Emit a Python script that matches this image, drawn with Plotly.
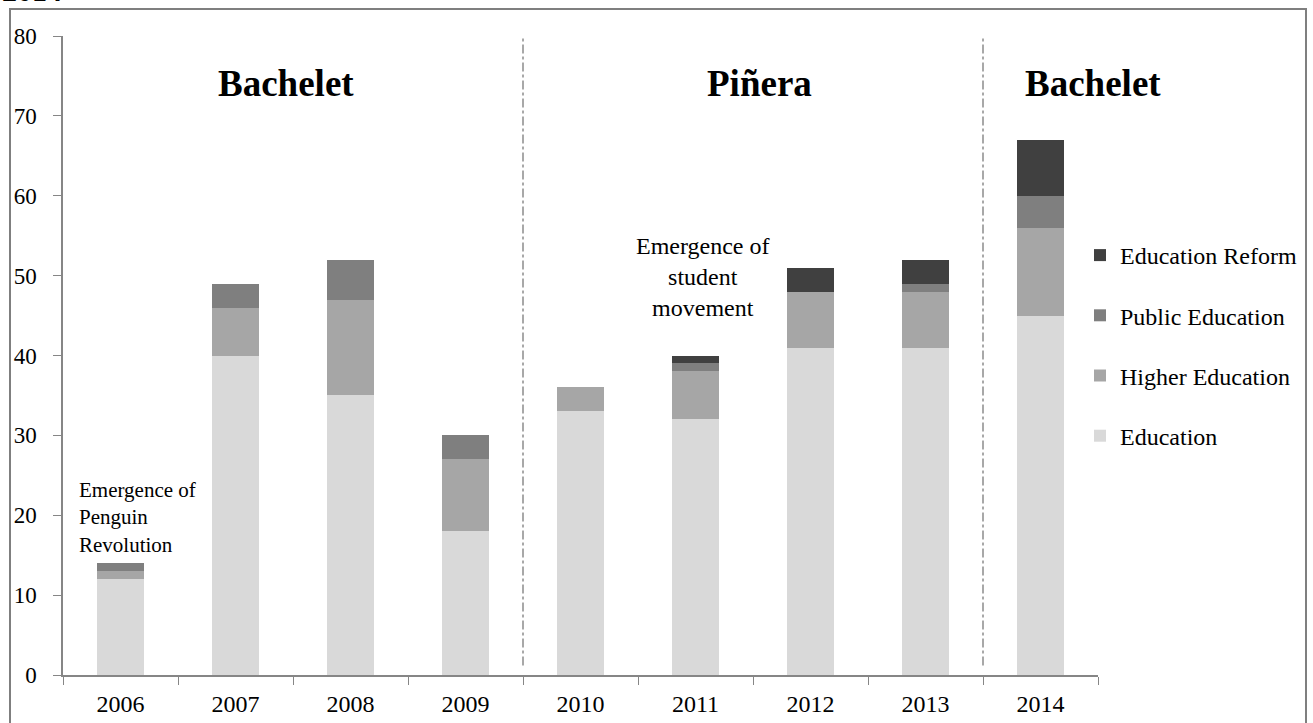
import plotly.graph_objects as go

# Yearly counts by topic
years = ["2006", "2007", "2008", "2009", "2010", "2011", "2012", "2013", "2014"]
education = [12, 40, 35, 18, 33, 32, 41, 41, 45]
higher_education = [1, 6, 12, 9, 3, 6, 7, 7, 11]
public_education = [1, 3, 5, 3, 0, 1, 0, 1, 4]
education_reform = [0, 0, 0, 0, 0, 1, 3, 3, 7]

series = [
    ("Education", education, "#d9d9d9", 4),
    ("Higher Education", higher_education, "#a6a6a6", 3),
    ("Public Education", public_education, "#7f7f7f", 2),
    ("Education Reform", education_reform, "#404040", 1),
]

W, H = 1313, 723
SERIF = "Liberation Serif, Times New Roman, serif"
AXIS_GREY = "#868686"


def px_x(p):
    return p / W


def px_y(p):
    return (H - p) / H


fig = go.Figure()
for name, vals, color, rank in series:
    fig.add_trace(go.Bar(
        x=years, y=vals, name=name,
        marker=dict(color=color, line=dict(width=0)),
        width=0.41,
        legendgroup=name,
        legendrank=rank,
    ))

shapes = [
    # outer frame
    dict(type="rect", xref="paper", yref="paper",
         x0=px_x(10), x1=px_x(1306), y0=-0.2, y1=px_y(9),
         line=dict(color="#7f7f7f", width=2), fillcolor="rgba(0,0,0,0)"),
]
# term separators between presidencies
for xpos in (3.5, 7.5):
    shapes.append(dict(type="line", xref="x", yref="y",
                       x0=xpos, x1=xpos, y0=1.2, y1=80,
                       line=dict(color="#8c8c8c", width=1.5, dash="dashdot")))

annotations = [
    dict(text="<b>Bachelet</b>", x=1.443, y=px_y(61), xref="x", yref="paper",
         showarrow=False, font=dict(family=SERIF, size=37, color="black")),
    dict(text="<b>Piñera</b>", x=5.56, y=px_y(61), xref="x", yref="paper",
         showarrow=False, font=dict(family=SERIF, size=37, color="black")),
    dict(text="<b>Bachelet</b>", x=8.457, y=px_y(61), xref="x", yref="paper",
         showarrow=False, font=dict(family=SERIF, size=37, color="black")),
    dict(text="Emergence of<br>Penguin<br>Revolution", x=px_x(77), y=px_y(517),
         xref="paper", yref="paper", xanchor="left", yanchor="middle", align="left",
         showarrow=False, font=dict(family=SERIF, size=21, color="black")),
    dict(text="Emergence of<br>student<br>movement", x=px_x(703), y=px_y(277),
         xref="paper", yref="paper", xanchor="center", yanchor="middle", align="center",
         showarrow=False, font=dict(family=SERIF, size=24, color="black")),
    dict(text="<b>2014</b>", x=0, y=1, xref="paper", yref="paper",
         xanchor="left", yanchor="bottom", yshift=-9, showarrow=False,
         font=dict(family=SERIF, size=30, color="black")),
]

fig.update_layout(
    width=W, height=H,
    margin=dict(l=0, r=0, t=0, b=0),
    paper_bgcolor="white", plot_bgcolor="white",
    barmode="stack",
    bargap=0.59,
    font=dict(family=SERIF, size=23, color="black"),
    showlegend=True,
    legend=dict(
        x=px_x(1080), y=px_y(233), xanchor="left", yanchor="top",
        traceorder="grouped", tracegroupgap=26,
        font=dict(family=SERIF, size=24, color="black"),
        bgcolor="rgba(0,0,0,0)",
    ),
    xaxis=dict(
        domain=[px_x(63), px_x(1098)],
        type="category", range=[-0.5, 8.5], automargin=False,
        showline=True, linecolor=AXIS_GREY, linewidth=1.5,
        ticks="outside", tickson="boundaries", ticklen=8, tickcolor=AXIS_GREY,
        ticklabelstandoff=6,
        tickfont=dict(family=SERIF, size=24, color="black"),
        showgrid=False, zeroline=False,
    ),
    yaxis=dict(
        domain=[px_y(675), px_y(36)],
        range=[0, 80], dtick=10, automargin=False,
        showline=True, linecolor=AXIS_GREY, linewidth=1.5,
        ticks="outside", ticklen=8, tickcolor=AXIS_GREY,
        ticklabelstandoff=12,
        tickfont=dict(family=SERIF, size=23, color="black"),
        showgrid=False, zeroline=False,
    ),
    shapes=shapes,
    annotations=annotations,
)

fig.write_html("out.html")
